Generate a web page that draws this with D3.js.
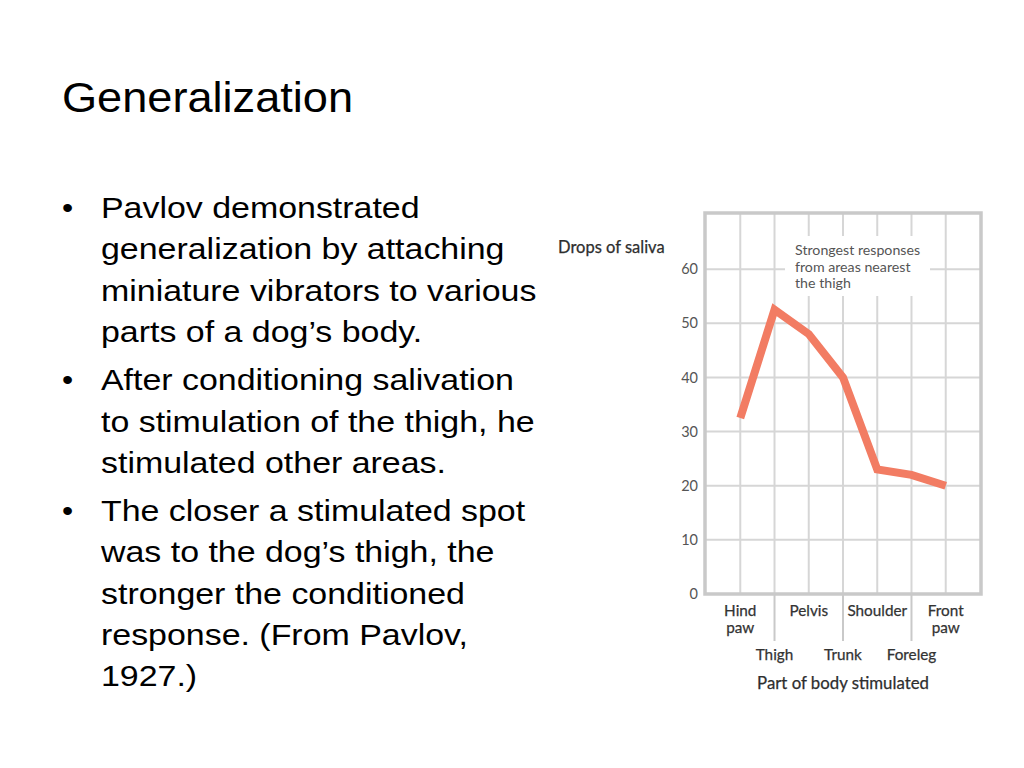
<!DOCTYPE html>
<html>
<head>
<meta charset="utf-8">
<script src="https://cdn.jsdelivr.net/npm/d3@7"></script>
<style>
  body { margin: 0; background: #fff; }
  svg { display: block; }
</style>
</head>
<body>
<script>
'use strict';

// slide text
const slideTitle = "Generalization";
const bullets = [
  ["Pavlov demonstrated", "generalization by attaching", "miniature vibrators to various", "parts of a dog\u2019s body."],
  ["After conditioning salivation", "to stimulation of the thigh, he", "stimulated other areas."],
  ["The closer a stimulated spot", "was to the dog\u2019s thigh, the", "stronger the conditioned", "response. (From Pavlov,", "1927.)"]
];

// chart data
const bodyParts = ["Hind paw", "Thigh", "Pelvis", "Trunk", "Shoulder", "Foreleg", "Front paw"];
const saliva = [32.5, 52.5, 48, 40, 23, 22, 20];
const yTicks = [0, 10, 20, 30, 40, 50, 60];
const annotation = ["Strongest responses", "from areas nearest", "the thigh"];

(function () {
  let svg = d3.select('body')
    .append('svg')
    .attr('width', 1024)
    .attr('height', 768);

  // title
  svg.append('text')
    .attr('transform', 'translate(62, 112) scale(1.05, 1)')
    .style('font-family', '"Liberation Sans", Arial, sans-serif')
    .style('font-size', '43px')
    .attr('fill', '#000')
    .text(slideTitle);

  // bullet list
  let y = 218;
  bullets.forEach((para) => {
    svg.append('text')
      .attr('transform', 'translate(62, ' + y + ') scale(1.1, 1)')
      .style('font-family', '"Liberation Sans", Arial, sans-serif')
      .style('font-size', '29px')
      .text('\u2022');
    para.forEach((line) => {
      svg.append('text')
        .attr('transform', 'translate(101, ' + y + ') scale(1.17, 1)')
        .style('font-family', '"Liberation Sans", Arial, sans-serif')
        .style('font-size', '29px')
        .attr('fill', '#000')
        .text(line);
      y += 41.3;
    });
    y += 7;
  });

  drawChart(svg);
})();

function drawChart(svg) {
  const left = 705, right = 981, top = 213, bottom = 594;
  const font = 'Lato, "Open Sans", sans-serif';
  const frameColor = '#c9c9c9';
  const gridColor = '#d6d6d6';

  let xScale = d3.scalePoint()
    .domain(bodyParts)
    .range([left, right])
    .padding(1.03);

  let yScale = d3.scaleLinear()
    .domain([0, 70])
    .range([bottom, top + 2]);

  let g = svg.append('g');

  // vertical grid
  g.selectAll('.vgrid')
    .data(bodyParts)
    .enter()
    .append('line')
    .attr('x1', (d) => xScale(d))
    .attr('x2', (d) => xScale(d))
    .attr('y1', top)
    .attr('y2', bottom)
    .attr('stroke', gridColor)
    .attr('stroke-width', 2);

  // horizontal grid
  g.selectAll('.hgrid')
    .data(yTicks.filter((d) => d > 0))
    .enter()
    .append('line')
    .attr('x1', left)
    .attr('x2', right)
    .attr('y1', (d) => yScale(d))
    .attr('y2', (d) => yScale(d))
    .attr('stroke', gridColor)
    .attr('stroke-width', 2);

  // white box behind annotation
  g.append('rect')
    .attr('x', 785)
    .attr('y', 236)
    .attr('width', 145)
    .attr('height', 60)
    .attr('fill', '#fff');

  // frame
  g.append('rect')
    .attr('x', left)
    .attr('y', top)
    .attr('width', right - left)
    .attr('height', bottom - top)
    .attr('fill', 'none')
    .attr('stroke', frameColor)
    .attr('stroke-width', 3.5);

  // y axis labels
  g.selectAll('.ylab')
    .data(yTicks)
    .enter()
    .append('text')
    .attr('x', left - 7)
    .attr('y', (d) => yScale(d))
    .attr('dy', '0.35em')
    .attr('text-anchor', 'end')
    .style('font-family', font)
    .style('font-size', '14.5px')
    .attr('fill', '#555')
    .text((d) => d);

  // long ticks for lower-row labels
  let lower = bodyParts.filter((d, i) => i % 2 === 1);
  let upper = bodyParts.filter((d, i) => i % 2 === 0);
  g.selectAll('.ltick')
    .data(lower)
    .enter()
    .append('line')
    .attr('x1', (d) => xScale(d))
    .attr('x2', (d) => xScale(d))
    .attr('y1', bottom)
    .attr('y2', 641)
    .attr('stroke', frameColor)
    .attr('stroke-width', 2);

  // upper row labels (may wrap to two lines)
  upper.forEach((d) => {
    let words = d.split(' ');
    let t = g.append('text')
      .attr('text-anchor', 'middle')
      .style('font-family', font)
      .style('font-size', '15.3px')
      .attr('fill', '#333')
      .attr('stroke', '#333')
      .attr('stroke-width', 0.25);
    let lines = (d === "Hind paw" || d === "Front paw") ? words : [d];
    lines.forEach((w, i) => {
      t.append('tspan')
        .attr('x', xScale(d))
        .attr('y', 616 + i * 17)
        .text(w);
    });
  });

  g.selectAll('.lowlab')
    .data(lower)
    .enter()
    .append('text')
    .attr('x', (d) => xScale(d))
    .attr('y', 660)
    .attr('text-anchor', 'middle')
    .style('font-family', font)
    .style('font-size', '15.3px')
    .attr('fill', '#333')
    .attr('stroke', '#333')
    .attr('stroke-width', 0.25)
    .text((d) => d);

  // axis titles
  g.append('text')
    .attr('x', 843)
    .attr('y', 689)
    .attr('text-anchor', 'middle')
    .style('font-family', font)
    .style('font-size', '16.8px')
    .attr('fill', '#2e2e2e')
    .attr('stroke', '#2e2e2e')
    .attr('stroke-width', 0.25)
    .text('Part of body stimulated');

  g.append('text')
    .attr('x', 558)
    .attr('y', 253)
    .style('font-family', font)
    .style('font-size', '16.5px')
    .attr('fill', '#2e2e2e')
    .attr('stroke', '#2e2e2e')
    .attr('stroke-width', 0.25)
    .text('Drops of saliva');

  // annotation
  g.selectAll('.ann')
    .data(annotation)
    .enter()
    .append('text')
    .attr('x', 795)
    .attr('y', (d, i) => 255 + i * 16.5)
    .style('font-family', font)
    .style('font-size', '14.2px')
    .attr('fill', '#555')
    .text((d) => d);

  // data line
  let line = d3.line()
    .x((d, i) => xScale(bodyParts[i]))
    .y((d) => yScale(d));

  g.append('path')
    .datum(saliva)
    .attr('d', line)
    .attr('fill', 'none')
    .attr('stroke', '#f27c63')
    .attr('stroke-width', 8)
    .attr('stroke-linejoin', 'miter');
}
</script>
</body>
</html>
